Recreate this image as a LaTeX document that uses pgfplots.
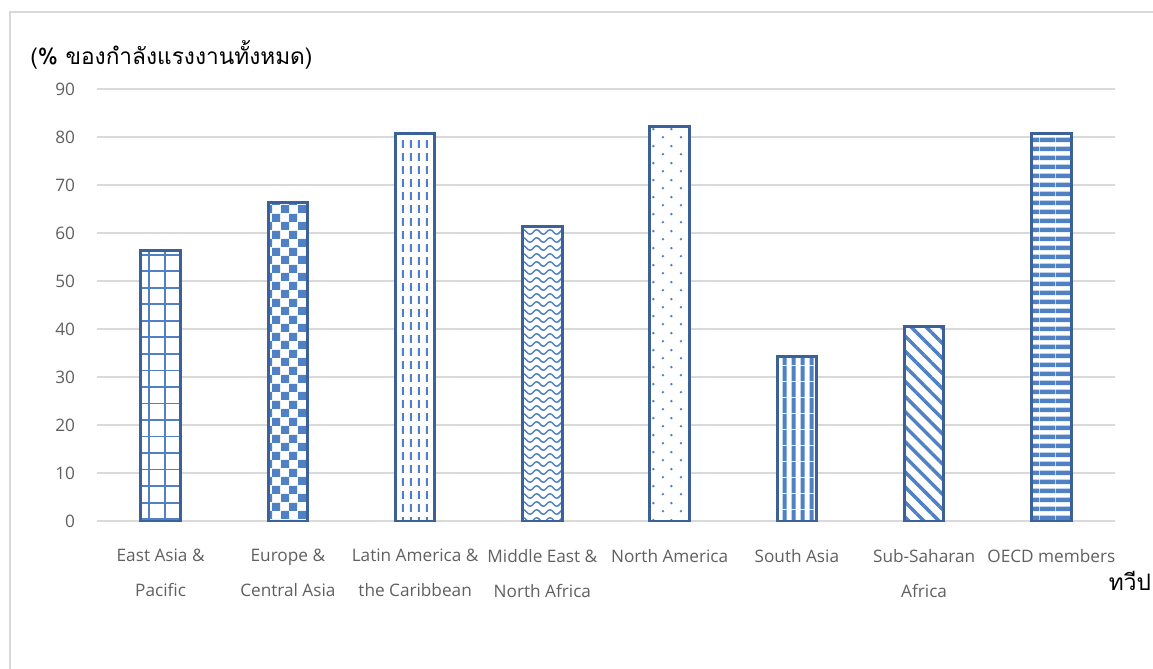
\documentclass[border=0pt]{standalone}
\usepackage{fontspec}
\setmainfont{Open Sans}
\newfontfamily\thaifont[Script=Thai]{Loma}
\usepackage{pgfplots}
\pgfplotsset{compat=1.18}
\usetikzlibrary{patterns.meta}

\definecolor{barline}{RGB}{59,97,152}
\definecolor{barpat}{RGB}{79,129,196}
\definecolor{gridc}{RGB}{217,217,217}
\definecolor{tickc}{RGB}{96,96,96}

% ---- fill patterns (uncolored, coloured by pattern color) ----
\pgfdeclarepattern{name=cellgrid, type=uncolored,
  bottom left={\pgfpoint{-1pt}{-1pt}}, top right={\pgfpoint{13.4pt}{13.4pt}},
  tile size={\pgfpoint{12.4pt}{12.4pt}},
  code={\pgfsetlinewidth{1.3pt}
    \pgfpathmoveto{\pgfpoint{0pt}{0pt}}\pgfpathlineto{\pgfpoint{12.4pt}{0pt}}
    \pgfpathmoveto{\pgfpoint{0pt}{0pt}}\pgfpathlineto{\pgfpoint{0pt}{12.4pt}}
    \pgfusepath{stroke}}}
\pgfdeclarepattern{name=checks, type=uncolored,
  bottom left={\pgfpoint{0pt}{0pt}}, top right={\pgfpoint{12.4pt}{12.4pt}},
  tile size={\pgfpoint{12.4pt}{12.4pt}},
  code={\pgfpathrectangle{\pgfpoint{0pt}{0pt}}{\pgfpoint{6.2pt}{6.2pt}}
    \pgfpathrectangle{\pgfpoint{6.2pt}{6.2pt}}{\pgfpoint{6.2pt}{6.2pt}}
    \pgfusepath{fill}}}
\pgfdeclarepattern{name=vdashes, type=uncolored,
  bottom left={\pgfpoint{0pt}{0pt}}, top right={\pgfpoint{6.25pt}{9.75pt}},
  tile size={\pgfpoint{6.25pt}{9.75pt}},
  code={\pgfsetlinewidth{1.6pt}
    \pgfpathmoveto{\pgfpoint{3pt}{1pt}}\pgfpathlineto{\pgfpoint{3pt}{7.2pt}}
    \pgfusepath{stroke}}}
\pgfdeclarepattern{name=waves, type=uncolored,
  bottom left={\pgfpoint{-1pt}{0pt}}, top right={\pgfpoint{11pt}{6pt}},
  tile size={\pgfpoint{10pt}{6pt}},
  code={\pgfsetlinewidth{1.1pt}
    \pgfpathmoveto{\pgfpoint{0pt}{3pt}}
    \pgfpathcurveto{\pgfpoint{1.7pt}{5.2pt}}{\pgfpoint{3.3pt}{5.2pt}}{\pgfpoint{5pt}{3pt}}
    \pgfpathcurveto{\pgfpoint{6.7pt}{0.8pt}}{\pgfpoint{8.3pt}{0.8pt}}{\pgfpoint{10pt}{3pt}}
    \pgfusepath{stroke}}}
\pgfdeclarepattern{name=sparsedots, type=uncolored,
  bottom left={\pgfpoint{0pt}{0pt}}, top right={\pgfpoint{13pt}{12.8pt}},
  tile size={\pgfpoint{13pt}{12.8pt}},
  code={\pgfpathcircle{\pgfpoint{3pt}{3pt}}{1.05pt}
    \pgfpathcircle{\pgfpoint{9.5pt}{9.4pt}}{1.05pt}
    \pgfusepath{fill}}}
\pgfdeclarepattern{name=vstripes, type=uncolored,
  bottom left={\pgfpoint{0pt}{0pt}}, top right={\pgfpoint{6.5pt}{12pt}},
  tile size={\pgfpoint{6.5pt}{12pt}},
  code={\pgfpathrectangle{\pgfpoint{2pt}{0pt}}{\pgfpoint{3pt}{12pt}}
    \pgfusepath{fill}}}
\pgfdeclarepattern{name=hstripes, type=uncolored,
  bottom left={\pgfpoint{0pt}{0pt}}, top right={\pgfpoint{12pt}{6.9pt}},
  tile size={\pgfpoint{12pt}{6.9pt}},
  code={\pgfpathrectangle{\pgfpoint{0pt}{1.5pt}}{\pgfpoint{12pt}{3.6pt}}
    \pgfusepath{fill}}}

\begin{document}
\begin{tikzpicture}
% page frame and chart-area border
\useasboundingbox (0,0) rectangle (864.75pt,-501pt);
\draw[gridc, line width=1.1pt] (7.5pt,-530pt) -- (7.5pt,-9pt) -- (880pt,-9pt);

\begin{axis}[
  at={(72.75pt,-390.75pt)}, anchor=south west,
  scale only axis, width=763.5pt, height=324pt,
  xmin=-0.5, xmax=7.5, ymin=0, ymax=90,
  ybar, bar width=29.5pt, bar shift=0pt,
  xtick={0,...,7},
  xticklabels={{East Asia \&\\Pacific},{Europe \&\\Central Asia},
    {Latin America \&\\the Caribbean},{Middle East \&\\North Africa},
    {North America},{South Asia},{Sub-Saharan\\Africa},{OECD members}},
  ytick={0,10,...,90},
  ymajorgrids, grid style={gridc, line width=1.1pt},
  separate axis lines,
  axis x line*=bottom, axis y line*=left,
  x axis line style={gridc, line width=1.3pt, -},
  y axis line style={draw=none},
  major tick length=0pt,
  /pgf/number format/assume math mode=true,
  tick label style={font=\fontsize{12.9}{26.3}\selectfont, text=tickc},
  xticklabel style={align=center, yshift=-17.5pt},
  yticklabel style={xshift=-13pt},
  every axis plot/.append style={draw=barline, line width=2.2pt, fill=white},
]
\addplot[postaction={pattern=cellgrid, pattern color=barpat}] coordinates {(0,56.4)};
\addplot[postaction={pattern=checks, pattern color=barpat}] coordinates {(1,66.4)};
\addplot[postaction={pattern=vdashes, pattern color=barpat}] coordinates {(2,80.8)};
\addplot[postaction={pattern=waves, pattern color=barpat}] coordinates {(3,61.3)};
\addplot[postaction={pattern=sparsedots, pattern color=barpat}] coordinates {(4,82.1)};
\addplot[postaction={pattern=vstripes, pattern color=barpat}] coordinates {(5,34.2)};
\addplot[postaction={pattern={Lines[angle=-45, distance=8pt, line width=2.6pt]}, pattern color=barpat}] coordinates {(6,40.5)};
\addplot[postaction={pattern=hstripes, pattern color=barpat}] coordinates {(7,80.7)};
\end{axis}

% axis titles
\node[anchor=west, inner sep=0pt] at (22.5pt,-41.5pt) {\thaifont\fontsize{17}{20}\selectfont (\% ของกำลังแรงงานทั้งหมด)};
\node[inner sep=0pt] at (847.5pt,-436pt) {\thaifont\fontsize{17}{20}\selectfont ทวีป};
\end{tikzpicture}
\end{document}
